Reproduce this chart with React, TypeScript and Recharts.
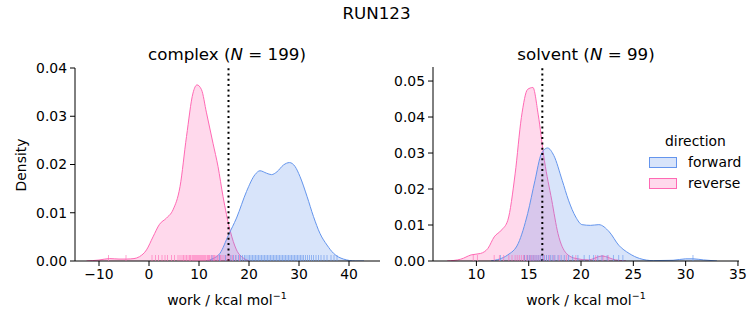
import { ComposedChart, Area, Scatter, XAxis, YAxis, ReferenceLine } from 'recharts'

const FWD = '#6495ed'
const REV = '#ff69b4'
const FONT = 'DejaVu Sans'

// complex leg (KDE)
const complexFwdX = [11.5, 12.8, 14.2, 15.9, 17.5, 19.5, 21.2, 22.2, 23.5, 24.5, 25.6, 26.9, 28.1, 29.2, 30.2, 31.6, 32.9, 34.2, 35.6, 36.9, 38.9, 41.3, 43]
const complexFwdY = [0, 0.0005, 0.0016, 0.0054, 0.0089, 0.0144, 0.0179, 0.0187, 0.0182, 0.0179, 0.0185, 0.0199, 0.0204, 0.0196, 0.0175, 0.0134, 0.0092, 0.0057, 0.0033, 0.0016, 0.0004, 0, 0]
const complexRevX = [-12.5, -10, -7.9, -6, -4.5, -3, -1.9, -0.5, 0.8, 2.1, 3.5, 4.8, 6.2, 7.5, 8.8, 9.6, 10.5, 11.5, 12.8, 13.8, 14.8, 16.2, 17.5, 18.9, 20.2]
const complexRevY = [0, 0.0002, 0.0005, 0.0004, 0.0004, 0.0005, 0.0009, 0.0023, 0.005, 0.0076, 0.0089, 0.0106, 0.0154, 0.0258, 0.0348, 0.0365, 0.0355, 0.0307, 0.0244, 0.0196, 0.0134, 0.0064, 0.0023, 0.0006, 0]

// solvent leg
const solventFwdX = [11.4, 13.0, 14.0, 14.9, 15.6, 16.2, 16.8, 17.4, 18.2, 18.8, 19.5, 20.1, 20.9, 21.7, 22.7, 23.6, 24.6, 25.6, 26.9, 28.8, 30.0, 30.7, 31.7, 33.0]
const solventFwdY = [0, 0.0017, 0.0049, 0.0132, 0.0224, 0.0297, 0.0314, 0.0293, 0.0224, 0.0169, 0.0122, 0.0101, 0.0099, 0.0101, 0.0081, 0.0044, 0.0021, 0.0007, 0.0001, 0.0002, 0.0006, 0.0006, 0.0003, 0]
const solventRevX = [7.2, 8.5, 9.5, 10.4, 11.1, 11.7, 12.4, 13.0, 13.7, 14.3, 14.9, 15.4, 15.9, 16.5, 17.2, 17.8, 18.6, 19.5, 20.7, 22.0, 23.3, 24.3]
const solventRevY = [0, 0.0005, 0.0017, 0.0021, 0.0035, 0.0067, 0.0086, 0.0113, 0.0242, 0.0399, 0.0477, 0.0482, 0.0408, 0.0279, 0.0169, 0.0076, 0.0021, 0.0007, 0.0003, 0.0014, 0.0003, 0]

// rug samples (approximate)
const complexFwdRug = [12.6, 14.1, 15.3, 16.4, 16.9, 17.4, 17.9, 18.3, 18.7, 19.1, 19.4, 19.8, 20.1, 20.4, 20.7, 21.0, 21.3, 21.6, 21.9, 22.2, 22.5, 22.8, 23.1, 23.4, 23.7, 24.0, 24.3, 24.6, 24.9, 25.2, 25.5, 25.8, 26.1, 26.4, 26.7, 27.0, 27.3, 27.6, 27.9, 28.2, 28.5, 28.8, 29.1, 29.4, 29.7, 30.0, 30.3, 30.6, 30.9, 31.3, 31.7, 32.1, 32.5, 32.9, 33.4, 33.9, 34.4, 35.0, 35.6, 36.4, 37.0, 37.6]
const complexRevRug = [-8.1, -4.6, 0.6, 1.3, 1.9, 2.6, 3.2, 3.7, 4.5, 5.1, 5.8, 6.2, 6.6, 6.9, 7.2, 7.5, 7.8, 8.1, 8.3, 8.6, 8.8, 9.0, 9.2, 9.4, 9.6, 9.8, 10.0, 10.2, 10.4, 10.6, 10.8, 11.0, 11.2, 11.4, 11.7, 11.9, 12.1, 12.4, 12.6, 12.9, 13.1, 13.4, 13.7, 14.0, 14.3, 14.6, 15.0, 15.4, 15.8, 16.2, 16.7, 17.3, 18.1]
const solventFwdRug = [12.3, 14.6, 14.9, 15.1, 15.3, 15.5, 15.7, 15.9, 16.1, 16.3, 16.5, 16.7, 16.9, 17.1, 17.3, 17.5, 17.8, 18.1, 18.4, 18.8, 19.2, 19.7, 20.3, 20.8, 21.2, 21.6, 22.0, 22.5, 23.1, 23.6, 24.0, 30.7]
const solventRevRug = [9.7, 10.1, 11.7, 12.2, 12.6, 13.1, 13.4, 13.7, 13.9, 14.1, 14.3, 14.5, 14.6, 14.8, 14.9, 15.1, 15.2, 15.4, 15.5, 15.7, 15.9, 16.1, 16.4, 16.7, 17.0, 17.4, 17.9, 18.6, 19.5, 21.4, 22.1, 22.6]

const complexXTicks = [-10, 0, 10, 20, 30, 40]
const complexYTicks = [0, 0.01, 0.02, 0.03, 0.04]
const solventXTicks = [10, 15, 20, 25, 30, 35]
const solventYTicks = [0, 0.01, 0.02, 0.03, 0.04, 0.05]

const zip = (xs: number[], ys: number[]) => xs.map((x, i) => ({ x, y: ys[i] }))
const rug = (xs: number[]) => xs.map((x) => ({ x, y: 0 }))

const fmtX = (v: number) => (v < 0 ? '\u2212' + Math.abs(v) : String(v))
const fmtY = (v: number) => v.toFixed(2)

const tickStyle = { fontSize: 13.9, fill: '#000', fontFamily: FONT }

function RugMark(color: string) {
  return (p: any) => (
    <line x1={p.cx} x2={p.cx} y1={p.cy} y2={p.cy - 6} stroke={color} strokeOpacity={0.6} strokeWidth={1} />
  )
}

interface PanelProps {
  left: number
  width: number
  yAxisWidth: number
  right: number
  top: number
  xDomain: [number, number]
  yDomain: [number, number]
  xTicks: number[]
  yTicks: number[]
  fwd: { x: number; y: number }[]
  rev: { x: number; y: number }[]
  fwdRug: { x: number; y: number }[]
  revRug: { x: number; y: number }[]
  vline: number
}

function Panel(p: PanelProps) {
  return (
    <div style={{ position: 'absolute', left: p.left, top: 0 }}>
      <ComposedChart width={p.width} height={325} margin={{ top: p.top, right: p.right, bottom: 0, left: 0 }}>
        <XAxis
          type="number"
          dataKey="x"
          domain={p.xDomain}
          ticks={p.xTicks}
          allowDataOverflow
          height={64}
          tickFormatter={fmtX}
          tick={tickStyle}
          tickSize={5}
          tickMargin={3}
          stroke="#000"
        />
        <YAxis
          type="number"
          dataKey="y"
          domain={p.yDomain}
          ticks={p.yTicks}
          allowDataOverflow
          width={p.yAxisWidth}
          tickFormatter={fmtY}
          tick={tickStyle}
          tickSize={5}
          tickMargin={3}
          stroke="#000"
        />
        <Area data={p.rev} dataKey="y" type="monotone" stroke={REV} strokeWidth={1} fill={REV} fillOpacity={0.25} isAnimationActive={false} dot={false} activeDot={false} />
        <Area data={p.fwd} dataKey="y" type="monotone" stroke={FWD} strokeWidth={1} fill={FWD} fillOpacity={0.25} isAnimationActive={false} dot={false} activeDot={false} />
        <Scatter data={p.revRug} dataKey="y" shape={RugMark(REV)} isAnimationActive={false} />
        <Scatter data={p.fwdRug} dataKey="y" shape={RugMark(FWD)} isAnimationActive={false} />
        <ReferenceLine x={p.vline} stroke="#000" strokeWidth={2} strokeDasharray="2 3.3" />
      </ComposedChart>
    </div>
  )
}

const abs = (extra: React.CSSProperties): React.CSSProperties => ({
  position: 'absolute',
  whiteSpace: 'nowrap',
  fontFamily: FONT,
  color: '#000',
  ...extra,
})

function XLabel({ cx }: { cx: number }) {
  return (
    <div style={abs({ left: cx - 100, width: 200, top: 290, textAlign: 'center', fontSize: 13.9, lineHeight: '20px' })}>
      work / kcal mol<sup style={{ fontSize: 9.5, verticalAlign: 'top', position: 'relative', top: -4 }}>{'\u22121'}</sup>
    </div>
  )
}

function LegendBox({ color, top, label }: { color: string; top: number; label: string }) {
  return (
    <>
      <div
        style={{
          position: 'absolute',
          left: 649,
          top,
          width: 26,
          height: 9,
          background: color === FWD ? 'rgba(100,149,237,0.25)' : 'rgba(255,105,180,0.25)',
          border: `1px solid ${color}`,
        }}
      />
      <div style={abs({ left: 688, top: top - 5, fontSize: 13.9, lineHeight: '20px' })}>{label}</div>
    </>
  )
}

export default function App() {
  return (
    <div style={{ position: 'absolute', left: 0, top: 0, width: 753, height: 325, background: '#fff', overflow: 'hidden' }}>
      <Panel
        left={0}
        width={382}
        yAxisWidth={75}
        right={2}
        top={68}
        xDomain={[-14.8, 46.2]}
        yDomain={[0, 0.04]}
        xTicks={complexXTicks}
        yTicks={complexYTicks}
        fwd={zip(complexFwdX, complexFwdY)}
        rev={zip(complexRevX, complexRevY)}
        fwdRug={rug(complexFwdRug)}
        revRug={rug(complexRevRug)}
        vline={15.9}
      />
      <Panel
        left={383}
        width={370}
        yAxisWidth={50}
        right={14}
        top={67}
        xDomain={[5.85, 35.1]}
        yDomain={[0, 0.0539]}
        xTicks={solventXTicks}
        yTicks={solventYTicks}
        fwd={zip(solventFwdX, solventFwdY)}
        rev={zip(solventRevX, solventRevY)}
        fwdRug={rug(solventFwdRug)}
        revRug={rug(solventRevRug)}
        vline={16.3}
      />
      <div style={abs({ left: 0, width: 753, top: 2, textAlign: 'center', fontSize: 16.7, lineHeight: '22px' })}>RUN123</div>
      <div style={abs({ left: 127, width: 200, top: 43, textAlign: 'center', fontSize: 16.7, lineHeight: '22px' })}>
        complex (<i>N</i> = 199)
      </div>
      <div style={abs({ left: 486, width: 200, top: 43, textAlign: 'center', fontSize: 16.7, lineHeight: '22px' })}>
        solvent (<i>N</i> = 99)
      </div>
      <div style={abs({ left: 21 - 40, width: 80, top: 155, textAlign: 'center', fontSize: 13.9, lineHeight: '20px', transform: 'rotate(-90deg)' })}>
        Density
      </div>
      <XLabel cx={227} />
      <XLabel cx={586} />
      <div style={abs({ left: 665, top: 131, fontSize: 13.9, lineHeight: '20px' })}>direction</div>
      <LegendBox color={FWD} top={157} label="forward" />
      <LegendBox color={REV} top={178} label="reverse" />
    </div>
  )
}
